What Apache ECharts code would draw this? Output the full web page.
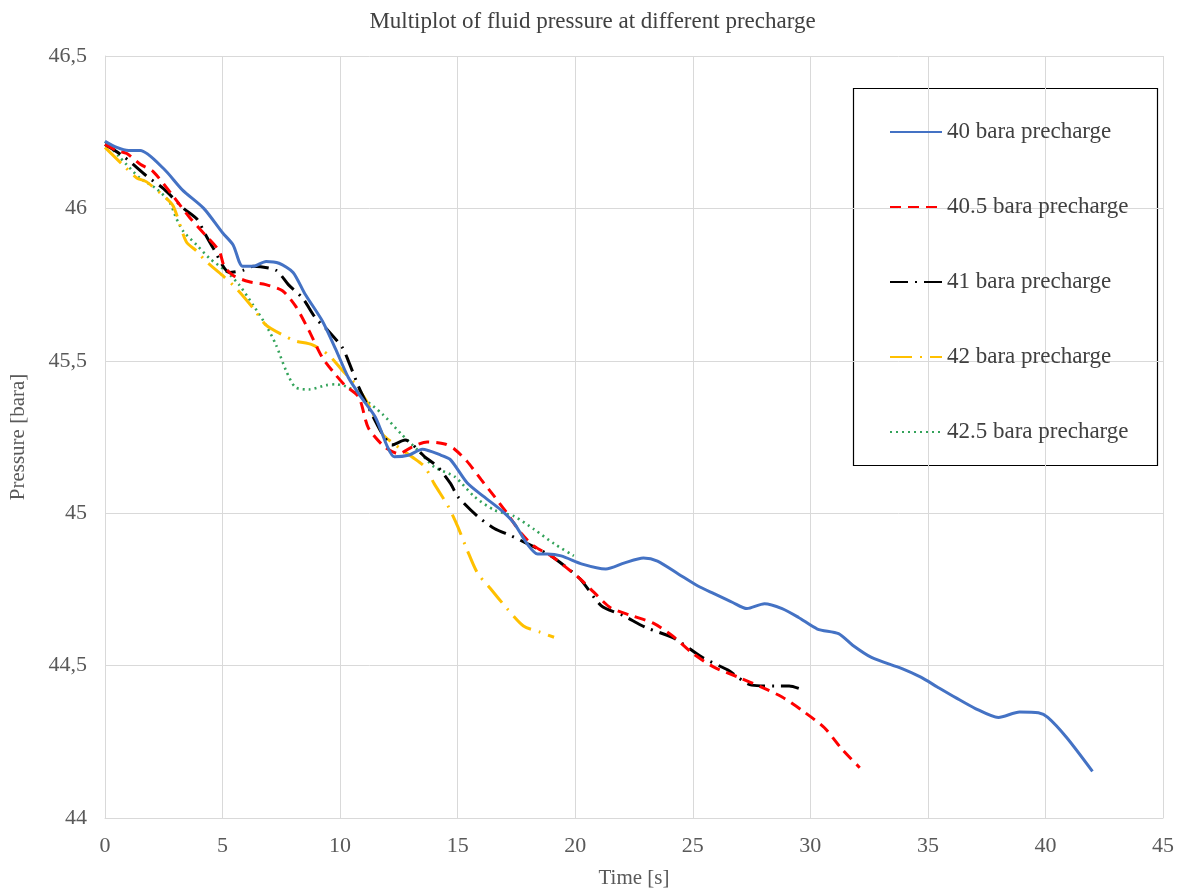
<!DOCTYPE html>
<html>
<head>
<meta charset="utf-8">
<script src="https://cdn.jsdelivr.net/npm/echarts@6/dist/echarts.min.js"></script>
<style>html,body{margin:0;padding:0;background:#fff}#c{width:1185px;height:894px}</style>
</head>
<body>
<div id="c"></div>
<script>
const seriesNames = ['40 bara precharge','40.5 bara precharge','41 bara precharge','42 bara precharge','42.5 bara precharge'];
const xTicks = [0,5,10,15,20,25,30,35,40,45];
const yTicks = [44,44.5,45,45.5,46,46.5];

const t40 = [0,0.5,1.0,1.5,2.5,3.3,4.2,5.0,5.45,5.85,6.3,6.85,7.4,8.0,8.5,9.25,9.8,10.35,10.9,11.5,12.0,12.3,12.9,13.5,14.3,14.7,15.4,16.1,16.85,17.4,17.95,18.4,18.8,19.4,20.3,21.3,22.1,22.9,23.5,24.4,25.2,25.9,26.7,27.3,28.05,28.8,29.5,30.3,31.2,31.8,32.6,33.9,34.7,35.4,36.2,37.0,38.0,38.9,39.7,40.1,40.9,42.0];
const p40 = [46.22,46.20,46.19,46.19,46.13,46.06,46.0,45.92,45.88,45.81,45.81,45.826,45.82,45.79,45.72,45.63,45.54,45.445,45.38,45.315,45.22,45.185,45.19,45.21,45.19,45.175,45.10,45.055,45.01,44.967,44.90,44.866,44.866,44.86,44.833,44.817,44.837,44.853,44.843,44.80,44.762,44.736,44.707,44.687,44.703,44.687,44.658,44.62,44.605,44.567,44.527,44.49,44.462,44.43,44.394,44.36,44.33,44.348,44.345,44.33,44.264,44.153];

const t405 = [0,0.5,0.93,1.5,2.06,2.9,3.6,4.3,4.86,5.07,5.45,6.1,6.84,7.55,8.1,8.67,9.25,9.8,10.2,10.8,11.2,11.9,12.5,13.05,13.7,14.45,14.87,15.4,16.0,16.56,17.1,17.7,18.25,18.97,19.65,20.2,20.8,21.5,22.4,23.3,24.1,25.0,25.9,27.0,27.9,28.8,29.7,30.6,31.3,32.1];
const p405 = [46.21,46.19,46.18,46.145,46.12,46.04,45.97,45.91,45.86,45.81,45.78,45.76,45.75,45.73,45.68,45.60,45.51,45.455,45.42,45.38,45.28,45.217,45.195,45.217,45.234,45.227,45.21,45.17,45.11,45.055,45.0,44.934,44.892,44.86,44.82,44.785,44.74,44.69,44.664,44.64,44.60,44.54,44.495,44.46,44.43,44.397,44.35,44.296,44.23,44.165];

const t41 = [0,0.8,1.77,2.5,3.34,3.9,4.3,4.6,5.3,5.87,6.3,7.27,7.8,8.4,8.96,9.5,10.1,10.35,10.8,11.35,11.8,12.2,12.76,13.6,14.15,14.7,15.0,15.84,16.56,17.3,17.96,18.5,19.1,20.2,21.1,22.05,23.0,24.2,25.4,26.5,27.5,28.5,29.1,29.7];
const p41 = [46.21,46.17,46.106,46.064,46.0,45.966,45.91,45.87,45.79,45.797,45.81,45.797,45.75,45.706,45.64,45.598,45.543,45.50,45.413,45.325,45.26,45.224,45.24,45.185,45.152,45.097,45.055,44.99,44.95,44.925,44.90,44.88,44.853,44.785,44.697,44.664,44.625,44.59,44.527,44.485,44.436,44.433,44.433,44.42];

const t42 = [0,0.8,1.35,1.77,2.5,2.9,3.46,3.9,4.3,5.0,5.58,6.3,6.84,7.55,8.1,8.8,9.5,10.1,10.65,11.2,11.8,12.3,13.05,13.6,14.0,14.6,15.0,15.4,15.84,16.4,17.1,17.8,18.5,19.1];
const p42 = [46.20,46.14,46.10,46.087,46.04,46.008,45.89,45.86,45.826,45.78,45.738,45.673,45.618,45.585,45.565,45.553,45.52,45.468,45.422,45.357,45.26,45.227,45.185,45.152,45.097,45.022,44.957,44.88,44.804,44.752,44.687,44.63,44.61,44.593];

const t425 = [0,0.6,1.48,2.2,2.75,3.04,3.34,3.9,4.45,5.15,5.7,6.3,6.84,7.27,7.7,8.1,8.67,9.4,9.8,10.35,10.94,11.8,12.6,13.3,14.0,14.87,15.7,16.56,17.4,18.25,19.1,19.94];
const p425 = [46.22,46.17,46.10,46.064,46.02,45.966,45.924,45.88,45.836,45.794,45.75,45.683,45.618,45.553,45.468,45.413,45.406,45.42,45.423,45.413,45.38,45.325,45.26,45.207,45.152,45.12,45.055,45.01,44.99,44.947,44.90,44.86];

const zip = (a,b) => a.map((v,i) => [v,b[i]]);
const font = '"Liberation Serif", "DejaVu Serif", serif';

const styles = [
  {color:'#4472C4', width:3, type:'solid'},
  {color:'#FF0000', width:3, type:[11,7]},
  {color:'#000000', width:3, type:[18,7,2,7]},
  {color:'#FFC000', width:3, type:[22,8,2,8]},
  {color:'#33A35A', width:2.6, type:[2,4]}
];
const datasets = [zip(t40,p40), zip(t405,p405), zip(t41,p41), zip(t42,p42), zip(t425,p425)];

const chart = echarts.init(document.getElementById('c'), null, {renderer:'canvas'});
chart.setOption({
  animation:false,
  backgroundColor:'#ffffff',
  title:{
    text:'Multiplot of fluid pressure at different precharge',
    left:'center', top:5,
    textStyle:{fontFamily:font, fontSize:23, fontWeight:'normal', color:'#404040'}
  },
  grid:{left:98, right:22, top:56, bottom:70, containLabel:false},
  xAxis:{
    type:'value', min:xTicks[0], max:xTicks[xTicks.length-1], interval:5,
    name:'Time [s]', nameLocation:'middle', nameGap:50,
    nameTextStyle:{fontFamily:font, fontSize:21, color:'#595959'},
    axisLine:{show:true, lineStyle:{color:'#d9d9d9', width:1}},
    axisTick:{show:false},
    axisLabel:{fontFamily:font, fontSize:22, color:'#595959', margin:17},
    splitLine:{show:true, lineStyle:{color:'#d9d9d9', width:1}}
  },
  yAxis:{
    type:'value', min:yTicks[0], max:yTicks[yTicks.length-1], interval:0.5,
    name:'Pressure [bara]', nameLocation:'middle', nameGap:76, nameRotate:90,
    nameTextStyle:{fontFamily:font, fontSize:21, color:'#595959'},
    axisLine:{show:true, lineStyle:{color:'#d9d9d9', width:1}},
    axisTick:{show:false},
    axisLabel:{fontFamily:font, fontSize:22, color:'#595959', margin:18,
      formatter:v => String(v).replace('.', ',')},
    splitLine:{show:true, lineStyle:{color:'#d9d9d9', width:1}}
  },
  legend:{
    orient:'vertical', left:884, top:115, itemGap:51,
    itemWidth:52, itemHeight:14,
    itemStyle:{opacity:0},
    textStyle:{fontFamily:font, fontSize:23, lineHeight:24, color:'#404040'},
    data:seriesNames
  },
  graphic:[{
    type:'rect', left:851, top:86,
    shape:{width:304, height:377},
    style:{fill:'none', stroke:'#000000', lineWidth:1.2}
  }],
  series: seriesNames.map((n,i) => ({
    name:n, type:'line', data:datasets[i], smooth:0.25,
    showSymbol:false, symbol:'none', symbolSize:0,
    lineStyle:{color:styles[i].color, width:styles[i].width, type:styles[i].type},
    itemStyle:{color:styles[i].color},
    z: 10 - i
  }))
});
</script>
</body>
</html>
